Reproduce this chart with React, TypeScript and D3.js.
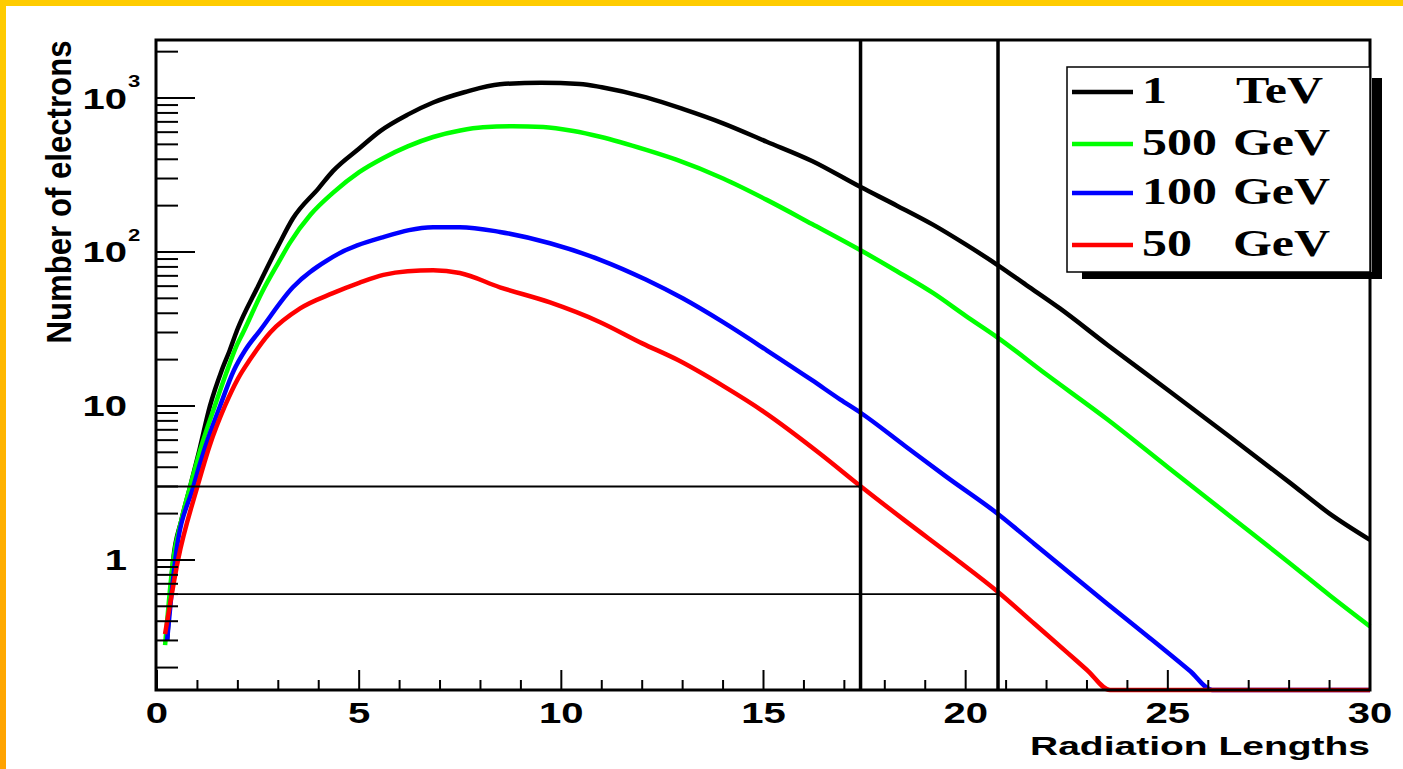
import React from "react";
import * as d3 from "d3";

const W = 1403;
const H = 769;

// axis domains / ticks
const X_DOMAIN = [0, 30];
const Y_MIN = 0.143;
const Y_MAX = 2381;
const X_LABELS = [0, 5, 10, 15, 20, 25, 30];
const Y_MAJOR = [1, 10, 100, 1000];
const Y_LABEL_BASE = ["1", "10", "10", "10"];
const Y_LABEL_EXP = ["", "", "2", "3"];

// series: 1 TeV
const blackX = [0.25, 0.4, 0.6, 0.82, 1.05, 1.31, 1.6, 1.8, 1.98, 2.5, 3.0, 3.36, 4.0, 4.35, 5.0, 5.52, 6.2, 6.83, 7.6, 8.48, 9.5, 10.46, 11.0, 12.1, 13.0, 14.0, 15.08, 16.2, 17.39, 18.3, 19.2, 20.0, 20.8, 21.5, 22.33, 23.5, 25.0, 26.5, 28.0, 29.0, 30.0];
const blackV = [0.3, 1.0, 1.8, 3.0, 5.2, 10, 17, 23, 31, 60, 110, 165, 260, 335, 470, 610, 780, 935, 1090, 1230, 1255, 1235, 1175, 1010, 850, 685, 520, 390, 265, 200, 150, 112, 82, 61, 43, 25, 12.7, 6.4, 3.2, 2.0, 1.35];

// 500 GeV
const greenX = [0.2, 0.4, 0.6, 0.82, 1.1, 1.43, 1.7, 1.98, 2.13, 2.6, 3.0, 3.29, 3.8, 4.35, 5.0, 5.6, 6.2, 6.83, 7.5, 8.06, 8.8, 9.55, 10.3, 10.96, 12.1, 12.86, 14.0, 15.08, 16.2, 17.39, 18.3, 19.2, 20.0, 20.8, 22.0, 23.5, 25.0, 26.5, 28.0, 29.0, 30.0];
const greenV = [0.28, 1.0, 1.8, 3.0, 5.5, 10, 16, 25, 30, 55, 85, 115, 175, 242, 330, 408, 485, 558, 615, 645, 655, 648, 610, 560, 460, 396, 300, 218, 152, 103, 75, 54, 38.5, 27.7, 16, 8.2, 4.0, 1.96, 0.96, 0.59, 0.37];

// 100 GeV
const blueX = [0.25, 0.45, 0.9, 1.2, 1.56, 1.9, 2.18, 2.55, 3.36, 4.35, 5.6, 6.83, 7.49, 8.48, 9.72, 10.96, 12.1, 13.0, 14.0, 15.08, 16.2, 16.9, 17.41, 18.5, 19.5, 20.83, 21.7, 22.58, 23.5, 24.5, 25.55, 26.1, 27, 30];
const blueV = [0.3, 1.0, 3.0, 5.5, 10, 17, 23, 31, 59, 93, 125, 145, 145, 135, 114, 89, 66, 50, 35, 23, 14.7, 11.0, 9.0, 5.5, 3.5, 1.96, 1.27, 0.82, 0.52, 0.32, 0.19, 0.143, 0, 0];

// 50 GeV
const redX = [0.2, 0.52, 1.0, 1.3, 1.68, 2.0, 2.3, 2.8, 3.54, 4.35, 5.0, 5.6, 6.2, 6.83, 7.49, 8.48, 9.72, 10.96, 12.0, 12.86, 14.0, 15.0, 16.4, 17.41, 18.5, 19.7, 20.83, 21.7, 22.5, 23.0, 23.57, 24, 26, 28, 30];
const redV = [0.33, 1.0, 3.0, 5.5, 10, 15, 20, 30, 43, 54, 63, 71, 75, 76, 73, 59, 47, 35, 25.5, 20, 13.5, 9.2, 4.9, 3.0, 1.8, 1.04, 0.61, 0.385, 0.252, 0.193, 0.143, 0, 0, 0, 0];

const SERIES_X = [blackX, greenX, blueX, redX];
const SERIES_V = [blackV, greenV, blueV, redV];
const SERIES_COLORS = ["#000000", "#00ff00", "#0000ff", "#ff0000"];
const LEGEND_VALUES = ["1", "500", "100", "50"];
const LEGEND_UNITS = ["TeV", "GeV", "GeV", "GeV"];

// reference cut lines
const CUT_X = [17.4, 20.8];
const CUT_Y = [3, 0.6];

const SX = 1.38;

export default function App() {
  const left = 157, right = 1370, top = 40, bottom = 690;
  const x = d3.scaleLinear().domain(X_DOMAIN).range([left, right]);
  const y = d3.scaleLog().domain([Y_MIN, Y_MAX]).range([bottom, top]);

  const line = d3
    .line<[number, number]>()
    .x((d) => x(d[0]))
    .y((d) => y(Math.max(d[1], Y_MIN)))
    .curve(d3.curveMonotoneX);

  const yMinor: number[] = [];
  [0.1, 1, 10, 100, 1000].forEach((dec) => {
    for (let k = 2; k <= 9; k++) {
      const v = dec * k;
      if (v >= Y_MIN && v <= Y_MAX) yMinor.push(v);
    }
  });
  const xMinor = d3.range(0, 31, 1).filter((v) => v % 5 !== 0);

  const sans = "'Liberation Sans', Arial, Helvetica, sans-serif";
  const serif = "'Liberation Serif', 'Times New Roman', serif";

  const legendRows = [92, 144, 193, 245];

  return (
    <svg
      width={W}
      height={H}
      style={{ position: "fixed", left: 0, top: 0, background: "#fff" }}
    >
      <defs>
        <linearGradient id="leftBand" x1="0" y1="0" x2="0" y2="1">
          <stop offset="0" stopColor="#ffcc00" />
          <stop offset="1" stopColor="#ffa200" />
        </linearGradient>
      </defs>
      <rect x={0} y={0} width={W} height={H} fill="#fff" />
      <rect x={0} y={0} width={W} height={6} fill="#ffcc00" />
      <rect x={0} y={0} width={6} height={H} fill="url(#leftBand)" />

      {/* curves */}
      {SERIES_X.map((xs, i) => (
        <path
          key={i}
          d={line(xs.map((xv, j) => [xv, SERIES_V[i][j]] as [number, number])) || ""}
          fill="none"
          stroke={SERIES_COLORS[i]}
          strokeWidth={4.5}
          strokeLinejoin="round"
          strokeLinecap="butt"
        />
      ))}

      {/* horizontal cut lines */}
      {CUT_Y.map((v, i) => (
        <line
          key={"h" + i}
          x1={left}
          x2={x(CUT_X[i])}
          y1={y(v)}
          y2={y(v)}
          stroke="#000"
          strokeWidth={1.8}
        />
      ))}
      {/* vertical cut lines */}
      {CUT_X.map((v, i) => (
        <line
          key={"v" + i}
          x1={x(v)}
          x2={x(v)}
          y1={top}
          y2={bottom}
          stroke="#000"
          strokeWidth={3.5}
        />
      ))}

      {/* frame */}
      <rect
        x={left - 1}
        y={top}
        width={right - left + 1}
        height={bottom - top}
        fill="none"
        stroke="#000"
        strokeWidth={3}
      />

      {/* y ticks */}
      {Y_MAJOR.map((v) => (
        <line key={"ym" + v} x1={left} x2={left + 38} y1={y(v)} y2={y(v)} stroke="#000" strokeWidth={2} />
      ))}
      {yMinor.map((v) => (
        <line key={"yn" + v} x1={left} x2={left + 21} y1={y(v)} y2={y(v)} stroke="#000" strokeWidth={2} />
      ))}
      {/* x ticks */}
      {X_LABELS.map((v) => (
        <line key={"xm" + v} x1={x(v)} x2={x(v)} y1={bottom} y2={bottom - 20} stroke="#000" strokeWidth={2} />
      ))}
      {xMinor.map((v) => (
        <line key={"xn" + v} x1={x(v)} x2={x(v)} y1={bottom} y2={bottom - 10} stroke="#000" strokeWidth={2} />
      ))}

      {/* y labels */}
      {Y_MAJOR.map((v, i) => (
        <g key={"yl" + v}>
          <text
            transform={`translate(127,${y(v) + 10.5}) scale(${SX},1)`}
            textAnchor="end"
            fontFamily={sans}
            fontWeight="bold"
            fontSize={29}
            fill="#000"
          >
            {Y_LABEL_BASE[i]}
          </text>
          {Y_LABEL_EXP[i] && (
            <text
              transform={`translate(128,${y(v) - 11}) scale(${SX},1)`}
              textAnchor="start"
              fontFamily={sans}
              fontWeight="bold"
              fontSize={16}
              fill="#000"
            >
              {Y_LABEL_EXP[i]}
            </text>
          )}
        </g>
      ))}

      {/* x labels */}
      {X_LABELS.map((v) => (
        <text
          key={"xl" + v}
          transform={`translate(${x(v)},723) scale(${SX},1)`}
          textAnchor="middle"
          fontFamily={sans}
          fontWeight="bold"
          fontSize={29}
          fill="#000"
        >
          {v}
        </text>
      ))}

      {/* axis titles */}
      <text
        x={1370}
        y={755}
        textAnchor="end"
        fontFamily={sans}
        fontWeight="bold"
        fontSize={26}
        textLength={340}
        lengthAdjust="spacingAndGlyphs"
        fill="#000"
      >
        Radiation Lengths
      </text>
      <text
        transform={`translate(71,192) scale(${SX},1) rotate(-90)`}
        textAnchor="middle"
        fontFamily={sans}
        fontWeight="bold"
        fontSize={25}
        textLength={303}
        lengthAdjust="spacingAndGlyphs"
        fill="#000"
      >
        Number of electrons
      </text>

      {/* legend */}
      <rect x={1082} y={272} width={300} height={7} fill="#000" />
      <rect x={1372} y={78} width={10} height={201} fill="#000" />
      <rect x={1067} y={67} width={303} height={205} fill="#fff" stroke="#000" strokeWidth={1.5} />
      {LEGEND_VALUES.map((lab, i) => (
        <g key={"lg" + i}>
          <line
            x1={1072}
            x2={1133}
            y1={legendRows[i]}
            y2={legendRows[i]}
            stroke={SERIES_COLORS[i]}
            strokeWidth={4.5}
          />
          <text
            transform={`translate(1142,${legendRows[i] + 11}) scale(1.35,1)`}
            fontFamily={serif}
            fontWeight="bold"
            fontSize={37}
            fill="#000"
          >
            {lab}
          </text>
          <text
            transform={`translate(${i === 0 ? 1236 : 1233},${legendRows[i] + 11}) scale(1.35,1)`}
            fontFamily={serif}
            fontWeight="bold"
            fontSize={37}
            fill="#000"
          >
            {LEGEND_UNITS[i]}
          </text>
        </g>
      ))}
    </svg>
  );
}
